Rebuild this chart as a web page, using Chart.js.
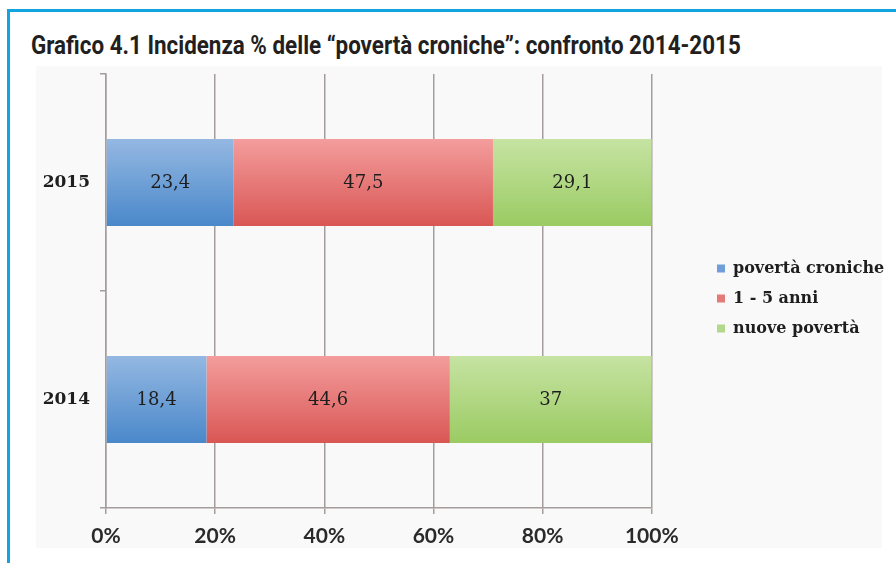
<!DOCTYPE html>
<html>
<head>
<meta charset="utf-8">
<script src="https://cdn.jsdelivr.net/npm/chart.js@4.4.0/dist/chart.umd.min.js"></script>
<style>
  html, body { margin: 0; padding: 0; background: #fff; }
  #page { position: relative; width: 896px; height: 563px; overflow: hidden; }
  #frame { position: absolute; left: 7px; top: 9px; right: 0; bottom: 0;
           border-top: 3px solid #12a4df; border-left: 3px solid #12a4df; }
  #title { position: absolute; left: 31px; top: 30px; white-space: nowrap;
           font: bold 26px Roboto, "Liberation Sans", sans-serif; color: #231f20;
           line-height: 30px; transform-origin: left center; }
  #plotbg { position: absolute; left: 36px; top: 66px; width: 846px; height: 482px; background: #f9f9f9; }
  #chart { position: absolute; left: 0; top: 0; }
</style>
</head>
<body>
<div id="page">
  <div id="frame"></div>
  <div id="title">Grafico 4.1 Incidenza % delle “povertà croniche”: confronto 2014-2015</div>
  <div id="plotbg"></div>
  <canvas id="chart" width="896" height="563"></canvas>
</div>
<script>
// data
const years = ['2015', '2014'];
const seriesNames = ['povertà croniche', '1 - 5 anni', 'nuove povertà'];
const croniche = [23.4, 18.4];
const unoCinque = [47.5, 44.6];
const nuove = [29.1, 37];
const xTicks = [0, 20, 40, 60, 80, 100];

// squeeze the title to the width of the printed one
const title = document.getElementById('title');
function fitTitle() {
  title.style.transform = 'none';
  const w = title.scrollWidth;
  title.style.transform = 'scaleX(' + (710 / w) + ')';
}
fitTitle();
if (document.fonts) document.fonts.ready.then(fitTitle);

// vertical shading inside each bar
function shade(top, bottom, mid) {
  return function (c) {
    const chart = c.chart;
    const y = chart.scales && chart.scales.y;
    if (!chart.chartArea || !y || c.dataIndex === undefined) return mid;
    const center = y.getPixelForValue(c.dataIndex);
    const half = (y.height / years.length) * 0.4 / 2;
    const g = chart.ctx.createLinearGradient(0, center - half, 0, center + half);
    g.addColorStop(0, top);
    g.addColorStop(1, bottom);
    return g;
  };
}
const solid = ['#6f9fd8', '#e57a78', '#b3d889'];

const valueLabels = {
  id: 'valueLabels',
  afterDatasetsDraw(chart) {
    const ctx = chart.ctx;
    ctx.save();
    ctx.font = '18px "DejaVu Serif"';
    ctx.fillStyle = '#1e1e1e';
    ctx.textAlign = 'center';
    ctx.textBaseline = 'middle';
    chart.data.datasets.forEach((ds, i) => {
      chart.getDatasetMeta(i).data.forEach((bar, j) => {
        const p = bar.getCenterPoint();
        ctx.fillText(String(ds.data[j]).replace('.', ','), p.x, p.y + 1);
      });
    });
    ctx.restore();
  }
};

// the legend sits away from the plot in the original
const legendShift = {
  id: 'legendShift',
  afterLayout(chart) {
    const lg = chart.legend;
    const dx = 703 - lg.left;
    lg.left += dx; lg.right += dx;
    lg.top -= 20; lg.bottom -= 20;
  }
};

const grid = '#a59d9d';

new Chart(document.getElementById('chart'), {
  type: 'bar',
  data: {
    labels: years,
    datasets: [
      { label: seriesNames[0], data: croniche, backgroundColor: shade('#94b8e2', '#4a88ca', solid[0]) },
      { label: seriesNames[1], data: unoCinque, backgroundColor: shade('#f39d9c', '#d95755', solid[1]) },
      { label: seriesNames[2], data: nuove, backgroundColor: shade('#c6e3a2', '#9bcb63', solid[2]) }
    ]
  },
  options: {
    indexAxis: 'y',
    responsive: false,
    animation: false,
    layout: { padding: { left: 0, top: 74, right: 53, bottom: 0 } },
    datasets: { bar: { barPercentage: 0.8, categoryPercentage: 0.5, borderWidth: 0 } },
    scales: {
      x: {
        stacked: true,
        min: 0,
        max: 100,
        afterBuildTicks(scale) { scale.ticks = xTicks.map(v => ({ value: v })); },
        afterFit(scale) { scale.height = 55; },
        grid: { color: grid, lineWidth: 1.5, tickLength: 6, tickColor: grid },
        border: { color: grid, width: 1.5 },
        ticks: {
          padding: 10,
          color: '#2a2a2a',
          font: { family: 'Lato', weight: 'bold', size: 21 },
          callback: v => v + '%'
        }
      },
      y: {
        stacked: true,
        afterFit(scale) { scale.width = 106; },
        grid: { drawOnChartArea: false, color: grid, lineWidth: 1.5, tickLength: 6 },
        border: { color: grid, width: 1.5 },
        ticks: {
          padding: 10,
          color: '#1e1e1e',
          font: { family: 'DejaVu Serif', weight: 'bold', size: 17 }
        }
      }
    },
    plugins: {
      tooltip: { enabled: false },
      legend: {
        position: 'right',
        labels: {
          boxWidth: 8,
          boxHeight: 8,
          padding: 14,
          color: '#1e1e1e',
          font: { family: 'DejaVu Serif', weight: 'bold', size: 16 },
          generateLabels(chart) {
            const items = Chart.defaults.plugins.legend.labels.generateLabels(chart);
            items.forEach((it, i) => { it.fillStyle = solid[i]; it.strokeStyle = solid[i]; it.lineWidth = 0; });
            return items;
          }
        }
      }
    }
  },
  plugins: [valueLabels, legendShift]
});
</script>
</body>
</html>
